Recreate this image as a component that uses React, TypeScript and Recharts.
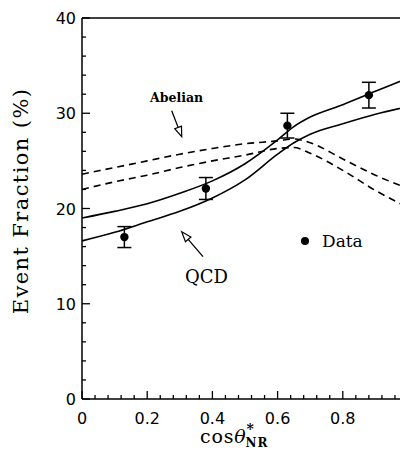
import { ComposedChart, Line, Scatter, ErrorBar, XAxis, YAxis } from "recharts";

// model curves, sampled on a common cos(theta) grid
const xGrid = [0, 0.1, 0.2, 0.3, 0.4, 0.5, 0.6, 0.65, 0.7, 0.8, 0.9, 1.0];
const qcdUpper = [19.0, 19.7, 20.5, 21.6, 22.9, 24.7, 27.2, 28.6, 29.6, 30.9, 32.3, 33.7];
const qcdLower = [16.6, 17.5, 18.6, 19.7, 21.1, 23.0, 25.7, 26.9, 27.8, 28.9, 29.9, 30.7];
const abelUpper = [23.6, 24.3, 25.0, 25.7, 26.3, 26.8, 27.1, 27.3, 26.9, 25.2, 23.5, 22.1];
const abelLower = [22.0, 22.8, 23.5, 24.3, 25.0, 25.6, 26.3, 26.4, 25.8, 24.0, 21.9, 20.1];

// measured points
const dataX = [0.13, 0.38, 0.63, 0.88];
const dataY = [17.0, 22.1, 28.7, 31.9];
const dataErr = [1.1, 1.15, 1.3, 1.35];

const xTicks = [0, 0.04, 0.08, 0.12, 0.16, 0.2, 0.24, 0.28, 0.32, 0.36, 0.4, 0.44, 0.48, 0.52, 0.56, 0.6,
  0.64, 0.68, 0.72, 0.76, 0.8, 0.84, 0.88, 0.92, 0.96, 1];
const yTicks = [0, 2, 4, 6, 8, 10, 12, 14, 16, 18, 20, 22, 24, 26, 28, 30, 32, 34, 36, 38, 40];

const curve = (ys: number[]) => xGrid.map((x, i) => ({ x, y: ys[i] }));
const points = dataX.map((x, i) => ({ x, y: dataY[i], err: dataErr[i] }));

const TICK_FONT = { fontFamily: "'DejaVu Sans', sans-serif", fontSize: 16, fill: "#000" };
const SERIF = "'DejaVu Serif', serif";

const isMajorX = (v: number) => Math.abs(v * 5 - Math.round(v * 5)) < 1e-6;
const isMajorY = (v: number) => v % 10 === 0;
const fmtX = (v: number) => (v === 0 ? "0" : v === 1 ? "1" : v.toFixed(1));

// ticks point into the plot, like the original
// eslint-disable-next-line @typescript-eslint/no-explicit-any
const makeTick = (side: "bottom" | "top" | "left" | "right") => (props: any) => {
  const { x, y, payload } = props;
  const v = payload.value as number;
  const major = side === "bottom" || side === "top" ? isMajorX(v) : isMajorY(v);
  const len = major ? 8 : 4;
  if (side === "bottom") {
    return (
      <g>
        <line x1={x} x2={x} y1={y} y2={y - len} stroke="#000" strokeWidth={1.3} />
        {major && <text x={x} y={y + 25} textAnchor="middle" {...TICK_FONT}>{fmtX(v)}</text>}
      </g>
    );
  }
  if (side === "top") return <line x1={x} x2={x} y1={y} y2={y + len} stroke="#000" strokeWidth={1.3} />;
  if (side === "right") return <line x1={x} x2={x - len} y1={y} y2={y} stroke="#000" strokeWidth={1.3} />;
  return (
    <g>
      <line x1={x} x2={x + len} y1={y} y2={y} stroke="#000" strokeWidth={1.3} />
      {major && <text x={x - 6} y={y + 6} textAnchor="end" {...TICK_FONT}>{v}</text>}
    </g>
  );
};

function OpenArrow({ x1, y1, x2, y2 }: { x1: number; y1: number; x2: number; y2: number }) {
  const a = Math.atan2(y2 - y1, x2 - x1);
  const L = 10, W = 3.6;
  const bx = x2 - L * Math.cos(a), by = y2 - L * Math.sin(a);
  const px = -Math.sin(a) * W, py = Math.cos(a) * W;
  return (
    <g>
      <line x1={x1} y1={y1} x2={bx} y2={by} stroke="#000" strokeWidth={1.3} />
      <polygon points={`${x2},${y2} ${bx + px},${by + py} ${bx - px},${by - py}`} fill="#fff" stroke="#000" strokeWidth={1.2} />
    </g>
  );
}

export default function App() {
  const axisLine = { stroke: "#000", strokeWidth: 1.5 };
  return (
    // negative bottom margin cancels the body margin so the page doesn't scroll
    <div style={{ position: "relative", width: 400, height: 448, marginBottom: -8, overflow: "hidden", background: "#fff" }}>
      <ComposedChart width={420} height={448} margin={{ top: 0, right: 0, bottom: 0, left: 0 }}>
        <XAxis dataKey="x" type="number" domain={[0, 1]} ticks={xTicks} interval={0} allowDataOverflow
          height={57} tickSize={0} tickMargin={0} tickLine={false} axisLine={axisLine} tick={makeTick("bottom")} />
        <XAxis xAxisId="top" orientation="top" dataKey="x" type="number" domain={[0, 1]} ticks={xTicks} interval={0}
          height={10} tickSize={0} tickMargin={0} tickLine={false} axisLine={axisLine} tick={makeTick("top")} />
        <YAxis type="number" domain={[0, 40]} ticks={yTicks} interval={0} allowDataOverflow
          width={74} tickSize={0} tickMargin={0} tickLine={false} axisLine={axisLine} tick={makeTick("left")} />
        <YAxis yAxisId="right" orientation="right" type="number" domain={[0, 40]} ticks={yTicks} interval={0}
          width={20} tickSize={0} tickMargin={0} tickLine={false} axisLine={axisLine} tick={makeTick("right")} />

        <Line data={curve(abelUpper)} dataKey="y" type="monotone" dot={false} stroke="#000" strokeWidth={1.6}
          strokeDasharray="7 5" isAnimationActive={false} />
        <Line data={curve(abelLower)} dataKey="y" type="monotone" dot={false} stroke="#000" strokeWidth={1.6}
          strokeDasharray="7 5" isAnimationActive={false} />
        <Line data={curve(qcdUpper)} dataKey="y" type="monotone" dot={false} stroke="#000" strokeWidth={1.6}
          isAnimationActive={false} />
        <Line data={curve(qcdLower)} dataKey="y" type="monotone" dot={false} stroke="#000" strokeWidth={1.6}
          isAnimationActive={false} />
        <Scatter data={points} dataKey="y" fill="#000" isAnimationActive={false}
          // eslint-disable-next-line @typescript-eslint/no-explicit-any
          shape={(p: any) => <circle cx={p.cx} cy={p.cy} r={4.2} fill="#000" />}>
          <ErrorBar dataKey="err" direction="y" width={7} stroke="#000" strokeWidth={1.5} isAnimationActive={false} />
        </Scatter>
      </ComposedChart>

      {/* labels and arrows drawn on top */}
      <svg width={420} height={448} style={{ position: "absolute", left: 0, top: 0, pointerEvents: "none" }}>
        <text transform="translate(20,193) rotate(-90)" textAnchor="middle" fontFamily={SERIF} fontSize={21}
          letterSpacing={1.4} fill="#000">
          Event Fraction (%)
        </text>
        <text x={192} y={435} fontFamily={SERIF} fontSize={19} letterSpacing={0.8} fill="#000">
          cos<tspan fontStyle="italic">θ</tspan>
          <tspan fontSize={14} fontWeight="bold" dy={-9}>*</tspan>
          <tspan fontSize={12} fontWeight="bold" dx={-9} dy={13}>NR</tspan>
        </text>
        <text x={142} y={94} fontFamily={SERIF} fontSize={12.5} fontWeight="bold" fill="#000">Abelian</text>
        <OpenArrow x1={163.7} y1={102.7} x2={173.7} y2={128.7} />
        <text x={177} y={275} fontFamily={SERIF} fontSize={18} fill="#000">QCD</text>
        <OpenArrow x1={195} y1={248.7} x2={173.7} y2={223.7} />
        <circle cx={297} cy={233} r={4} fill="#000" />
        <text x={314} y={239} fontFamily={SERIF} fontSize={17} fill="#000">Data</text>
      </svg>
    </div>
  );
}
